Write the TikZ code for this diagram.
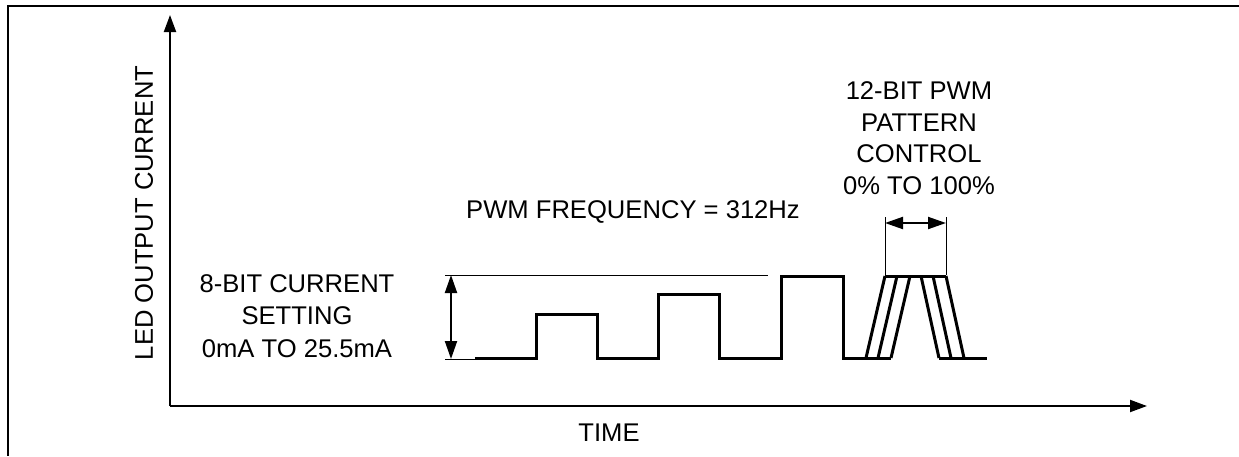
\documentclass[tikz,border=0pt]{standalone}
\usepackage{fontspec}
\setmainfont{Liberation Sans}
\usetikzlibrary{arrows.meta,positioning,calc}
\tikzset{
  frame/.style={line width=1pt},
  axis/.style={-{Triangle[length=8.5pt,width=6pt]}, line width=1pt},
  wave/.style={line width=1.5pt, line join=miter},
  refline/.style={line width=0.5pt},
  dimarrow/.style={{Triangle[length=9pt,width=6pt]}-{Triangle[length=9pt,width=6pt]}, line width=1pt},
  lbl/.style={font=\fontsize{12.8}{16.4}\selectfont, align=center, inner sep=0pt},
}

\begin{document}
\begin{tikzpicture}[x=0.5pt,y=-0.5pt]
  \useasboundingbox (0,0) rectangle (1239,456);
  % frame (top and left only)
  \draw[frame] (1239,6) -- (8,6) -- (8,456);
  % axes
  \coordinate (origin) at (170,406);
  \coordinate (ytip) at (170,15);
  \coordinate (xtip) at (1147,406);
  \draw[axis] (origin) -- (ytip);
  \draw[axis] (origin) -- (xtip);
  \node[lbl, rotate=90] (ylabel) at (144,213) {LED OUTPUT CURRENT};
  \node[lbl] (timelabel) at (609,433) {TIME};
  % current setting range
  \coordinate (reftop) at (445,275);
  \coordinate (refbot) at (445,359);
  \draw[refline] (reftop) -- (768,275);
  \draw[refline] (refbot) -- (476,359);
  \coordinate (rangetop) at (451,275);
  \coordinate (rangebot) at (451,359);
  \draw[dimarrow] (rangetop) -- (rangebot);
  \node[lbl] (curset) at (297,316) {8-BIT CURRENT\\SETTING\\0mA TO 25.5mA};
  \node[lbl] (freq) at (633,212) {PWM FREQUENCY = 312Hz};
  % pulses with rising amplitude
  \draw[wave] (475,358) -- (536,358) -- (536,314) -- (597,314) -- (597,358)
    -- (658,358) -- (658,294) -- (719,294) -- (719,358)
    -- (781,358) -- (781,276) -- (843,276) -- (843,358) -- (891,358);
  % pwm pattern
  \foreach \d in {0,12,25} {
    \draw[wave] (866+\d,358) -- (885+\d,276);
    \draw[wave] (921+\d,276) -- (939+\d,358);
  }
  \draw[wave] (885,276) -- (946,276);
  \draw[wave] (939,358) -- (987,358);
  \coordinate (patl) at (885,275);
  \coordinate (patr) at (946,275);
  \draw[refline] (patl) -- ++(0,-58) coordinate (patlt);
  \draw[refline] (patr) -- ++(0,-58) coordinate (patrt);
  \draw[dimarrow] ($(patlt)+(0,6)$) -- ($(patrt)+(0,6)$);
  \node[lbl, font=\fontsize{12.8}{15.8}\selectfont] (pattern) at (919,138)
    {12-BIT PWM\\PATTERN\\CONTROL\\0\% TO 100\%};
\end{tikzpicture}
\end{document}
